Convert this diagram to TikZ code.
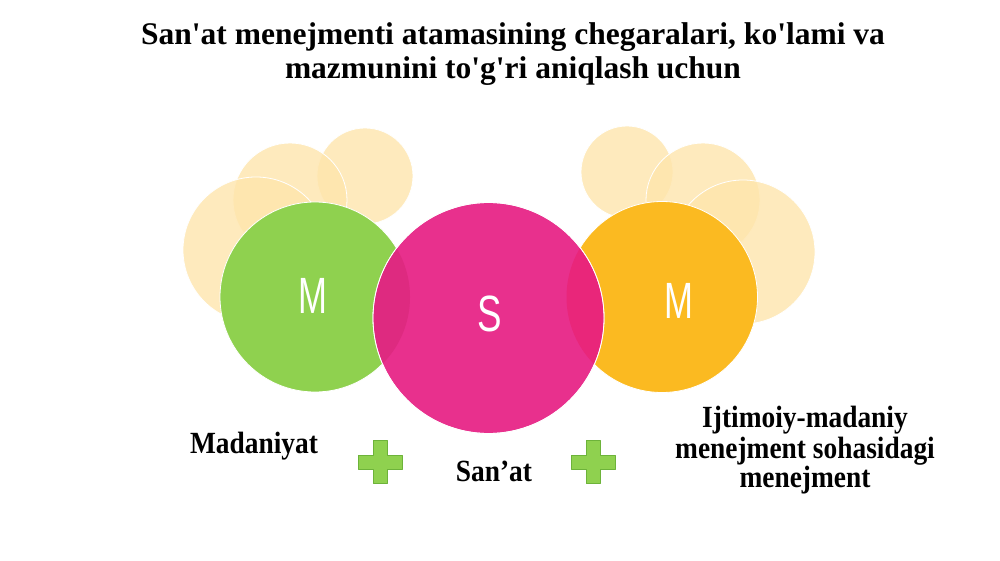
\documentclass[tikz,border=0pt]{standalone}
\usepackage{fontspec}
\setmainfont{Liberation Serif}
\newfontfamily\titlefont{Liberation Serif}
\newfontfamily\labfont[FakeStretch=0.89]{Liberation Serif}
\newfontfamily\letfont{Liberation Sans}
\definecolor{pale}{HTML}{FEE5AC}
\definecolor{grn}{HTML}{8FD14F}
\definecolor{grnline}{HTML}{6DB33A}
\definecolor{org}{HTML}{FBBA21}
\definecolor{pnk}{HTML}{E8308D}
\definecolor{pnkgrn}{HTML}{DE2A80}
\definecolor{pnkorg}{HTML}{E9267A}
\tikzset{
  palecirc/.style={circle, inner sep=0pt, fill=pale, fill opacity=0.8, draw=white, line width=0.8pt},
  maincirc/.style={circle, inner sep=0pt, draw=white, line width=0.8pt},
  letter/.style={text=white, font=\letfont\fontsize{51}{51}\selectfont, inner sep=0pt},
  titletext/.style={font=\titlefont\bfseries\fontsize{31.5}{34}\selectfont, anchor=base, inner sep=0pt},
  labtext/.style={font=\labfont\bfseries\fontsize{30.8}{31}\selectfont, anchor=base, inner sep=0pt},
  plusstyle/.style={fill=grn, draw=grnline, line width=0.8pt, line join=round},
  plussign/.pic={\path[plusstyle] (-22,-7) -- (-7,-7) -- (-7,-21.5) -- (7,-21.5) -- (7,-7) -- (22,-7) -- (22,7) -- (7,7) -- (7,21.5) -- (-7,21.5) -- (-7,7) -- (-22,7) -- cycle;}
}
\begin{document}
\begin{tikzpicture}[x=1pt,y=-1pt]
\useasboundingbox (0,0) rectangle (1000,561);
% title
\node[titletext] (t1) at (513,45) {San'at menejmenti atamasining chegaralari, ko'lami va};
\node[titletext] (t2) at (513,79) {mazmunini to'g'ri aniqlash uchun};
% pale background circles, left
\node[palecirc, minimum size=96pt] (pa) at (365,176) {};
\node[palecirc, minimum size=114pt] (pb) at (290,200) {};
\node[palecirc, minimum size=146pt] (pc) at (256,250) {};
% pale background circles, right
\node[palecirc, minimum size=92pt] (pd) at (627,172) {};
\node[palecirc, minimum size=114pt] (pe) at (703,200) {};
\node[palecirc, minimum size=144pt] (pf) at (743,252) {};
% main circles
\node[maincirc, fill=grn, minimum size=190pt] (cg) at (315,297) {};
\node[maincirc, fill=org, minimum size=191pt] (co) at (662,297) {};
\node[maincirc, fill=pnk, minimum size=231pt] (cp) at (488.5,318) {};
% overlaps tinted inside the pink circle
\begin{scope}
  \clip (488.5,318) circle (115);
  \fill[pnkgrn] (315,297) circle (95);
  \fill[pnkorg] (662,297) circle (95.5);
\end{scope}
\draw[white, line width=0.8pt] (cp.center) circle (115.5);
% letters
\node[letter] (lm1) at (313,296) {\scalebox{0.68}[1]{M}};
\node[letter] (ls) at (490,314) {\scalebox{0.72}[1]{S}};
\node[letter] (lm2) at (679,301) {\scalebox{0.68}[1]{M}};
% labels
\node[labtext] (lmad) at (254,453) {Madaniyat};
\node[labtext] (lsan) at (494,481) {San’at};
\node[labtext] (lr1) at (805,427) {Ijtimoiy-madaniy};
\node[labtext] (lr2) at (805,458) {menejment sohasidagi};
\node[labtext] (lr3) at (805,487) {menejment};
% plus signs
\pic at (380,462) {plussign};
\pic at (593,462) {plussign};
\end{tikzpicture}
\end{document}
